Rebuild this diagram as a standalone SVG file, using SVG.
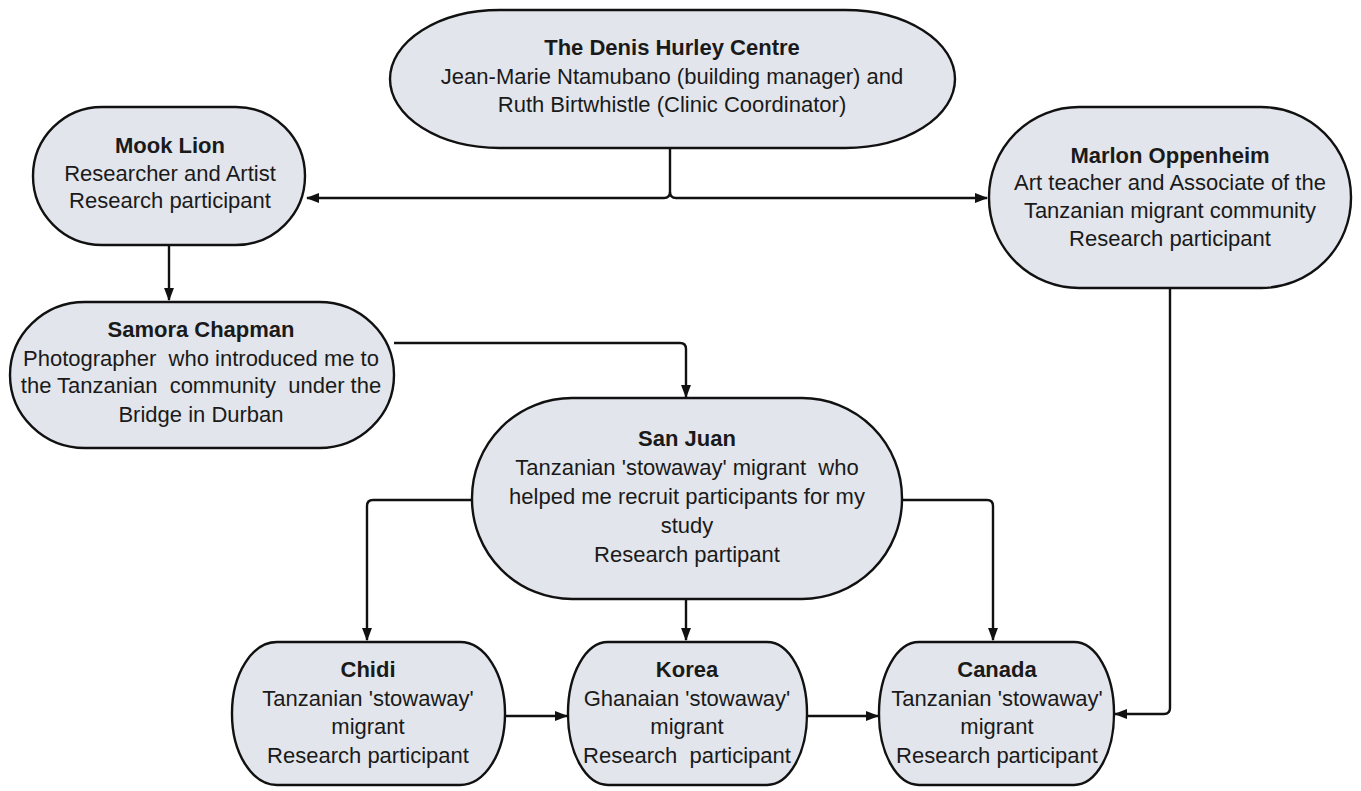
<svg xmlns="http://www.w3.org/2000/svg" width="1361" height="791" viewBox="0 0 1361 791">
<style>
.n{fill:#e2e5eb;stroke:#111;stroke-width:2.4}
text{font-family:"Liberation Sans",Arial,sans-serif;font-size:22px;fill:#1a1a1a;text-anchor:middle;white-space:pre}
.b{font-weight:bold}
.c{fill:none;stroke:#111;stroke-width:2.4}
</style>
<defs>
<marker id="a" viewBox="0 0 12 10" refX="11" refY="5" markerWidth="5.5" markerHeight="4.6" markerUnits="strokeWidth" orient="auto">
<path d="M0,0.5 L12,5 L0,9.5 Z" fill="#111"/>
</marker>
</defs>
<rect width="1361" height="791" fill="#fff"/>
<g id="connectors">
<path class="c" d="M670,148 V192 Q670,198 664,198 H307" marker-end="url(#a)"/>
<path class="c" d="M670,192 Q670,198 676,198 H987" marker-end="url(#a)"/>
<path class="c" d="M169,245 V300" marker-end="url(#a)"/>
<path class="c" d="M394,343 H680 Q686,343 686,349 V397" marker-end="url(#a)"/>
<path class="c" d="M1170,288 V708 Q1170,714 1164,714 H1115" marker-end="url(#a)"/>
<path class="c" d="M472,500 H373 Q367,500 367,506 V640" marker-end="url(#a)"/>
<path class="c" d="M686,599 V640" marker-end="url(#a)"/>
<path class="c" d="M902,500 H987 Q993,500 993,506 V640" marker-end="url(#a)"/>
<path class="c" d="M505,716 H567" marker-end="url(#a)"/>
<path class="c" d="M807,716 H878" marker-end="url(#a)"/>
</g>
<g id="denis">
<rect class="n" x="390" y="10" width="565" height="138" rx="110" ry="69"/>
<text x="672" y="55" class="b">The Denis Hurley Centre</text>
<text x="672" y="84">Jean-Marie Ntamubano (building manager) and</text>
<text x="672" y="112">Ruth Birtwhistle (Clinic Coordinator)</text>
</g>
<g id="mook">
<rect class="n" x="33" y="107" width="272" height="138" rx="69" ry="69"/>
<text x="170" y="153" class="b">Mook Lion</text>
<text x="170" y="181">Researcher and Artist</text>
<text x="170" y="208">Research participant</text>
</g>
<g id="samora">
<rect class="n" x="10" y="302" width="384" height="146" rx="75" ry="73"/>
<text x="201" y="337" class="b">Samora Chapman</text>
<text x="201" y="366">Photographer&#160; who introduced me to</text>
<text x="201" y="393">the Tanzanian&#160; community&#160; under the</text>
<text x="201" y="422">Bridge in Durban</text>
</g>
<g id="marlon">
<rect class="n" x="989" y="107" width="362" height="181" rx="90" ry="90"/>
<text x="1170" y="163" class="b">Marlon Oppenheim</text>
<text x="1170" y="190">Art teacher and Associate of the</text>
<text x="1170" y="218">Tanzanian migrant community</text>
<text x="1170" y="246">Research participant</text>
</g>
<g id="sanjuan">
<rect class="n" x="472" y="398" width="430" height="201" rx="100" ry="100"/>
<text x="687" y="446" class="b">San Juan</text>
<text x="687" y="475">Tanzanian 'stowaway' migrant&#160; who</text>
<text x="687" y="504">helped me recruit participants for my</text>
<text x="687" y="533">study</text>
<text x="687" y="562">Research partipant</text>
</g>
<g id="chidi">
<rect class="n" x="232" y="642" width="273" height="143" rx="45" ry="71"/>
<text x="368" y="677" class="b">Chidi</text>
<text x="368" y="706">Tanzanian 'stowaway'</text>
<text x="368" y="734">migrant</text>
<text x="368" y="763">Research participant</text>
</g>
<g id="korea">
<rect class="n" x="568" y="642" width="239" height="143" rx="40" ry="71"/>
<text x="687" y="677" class="b">Korea</text>
<text x="687" y="706">Ghanaian 'stowaway'</text>
<text x="687" y="734">migrant</text>
<text x="687" y="763">Research&#160; participant</text>
</g>
<g id="canada">
<rect class="n" x="879" y="642" width="235" height="143" rx="40" ry="71"/>
<text x="997" y="677" class="b">Canada</text>
<text x="997" y="706">Tanzanian 'stowaway'</text>
<text x="997" y="734">migrant</text>
<text x="997" y="763">Research participant</text>
</g>
</svg>
